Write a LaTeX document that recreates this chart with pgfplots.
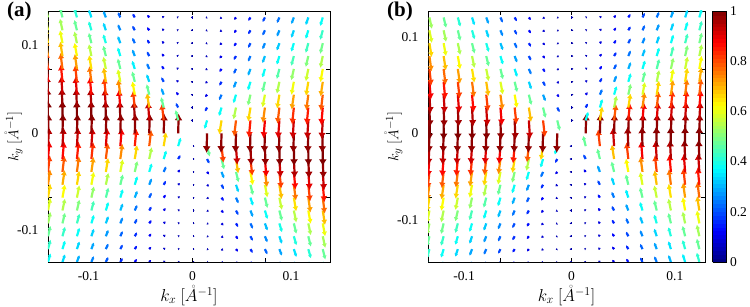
\documentclass[border=0pt]{standalone}
\usepackage{fontspec}
\setmainfont{Liberation Serif}
\usepackage{amsmath}
\usepackage{pgfplots}
\usepackage{pgfplotstable}
\pgfplotsset{compat=1.18}
\usetikzlibrary{arrows.meta}

% spin field of panel (a): grid position x y, components u v, magnitude m
\pgfplotstableread{
x y u v m
-10 -10 0.177 0.661 0.382
-10 -9 0.178 0.727 0.425
-10 -8 0.176 0.804 0.476
-10 -7 0.173 0.886 0.531
-10 -6 0.167 0.981 0.593
-10 -5 0.159 1.083 0.664
-10 -4 0.146 1.188 0.738
-10 -3 0.127 1.295 0.814
-10 -2 0.102 1.393 0.885
-10 -1 0.072 1.474 0.944
-10 0 0.038 1.529 0.984
-10 1 0.000 1.550 1.000
-10 2 -0.038 1.529 0.984
-10 3 -0.072 1.474 0.944
-10 4 -0.102 1.393 0.885
-10 5 -0.127 1.295 0.814
-10 6 -0.146 1.188 0.738
-10 7 -0.159 1.083 0.664
-10 8 -0.167 0.981 0.593
-10 9 -0.173 0.886 0.531
-9 -10 0.176 0.595 0.341
-9 -9 0.177 0.661 0.382
-9 -8 0.178 0.734 0.429
-9 -7 0.175 0.822 0.487
-9 -6 0.172 0.917 0.550
-9 -5 0.164 1.026 0.624
-9 -4 0.152 1.141 0.705
-9 -3 0.134 1.260 0.789
-9 -2 0.109 1.374 0.870
-9 -1 0.075 1.466 0.938
-9 0 0.038 1.529 0.984
-9 1 -0.004 1.550 1.000
-9 2 -0.046 1.519 0.977
-9 3 -0.083 1.450 0.927
-9 4 -0.115 1.355 0.856
-9 5 -0.138 1.236 0.772
-9 6 -0.155 1.117 0.688
-9 7 -0.166 1.004 0.609
-9 8 -0.173 0.898 0.537
-9 9 -0.176 0.804 0.476
-8 -10 0.174 0.526 0.298
-8 -9 0.176 0.589 0.337
-8 -8 0.177 0.661 0.382
-8 -7 0.178 0.744 0.436
-8 -6 0.175 0.844 0.502
-8 -5 0.169 0.957 0.577
-8 -4 0.159 1.083 0.664
-8 -3 0.141 1.215 0.757
-8 -2 0.116 1.346 0.850
-8 -1 0.080 1.456 0.931
-8 0 0.038 1.529 0.984
-8 1 -0.009 1.549 0.999
-8 2 -0.055 1.506 0.967
-8 3 -0.095 1.415 0.901
-8 4 -0.127 1.295 0.814
-8 5 -0.149 1.162 0.719
-8 6 -0.164 1.031 0.628
-8 7 -0.172 0.909 0.545
-8 8 -0.176 0.804 0.476
-8 9 -0.178 0.710 0.414
-7 -10 0.169 0.452 0.254
-7 -9 0.172 0.510 0.288
-7 -8 0.176 0.579 0.331
-7 -7 0.177 0.660 0.382
-7 -6 0.177 0.758 0.445
-7 -5 0.174 0.873 0.521
-7 -4 0.165 1.010 0.613
-7 -3 0.150 1.157 0.716
-7 -2 0.122 1.321 0.830
-7 -1 0.086 1.443 0.922
-7 0 0.038 1.529 0.984
-7 1 -0.016 1.547 0.997
-7 2 -0.068 1.484 0.951
-7 3 -0.111 1.367 0.866
-7 4 -0.141 1.218 0.760
-7 5 -0.160 1.068 0.653
-7 6 -0.171 0.925 0.556
-7 7 -0.176 0.804 0.476
-7 8 -0.178 0.698 0.406
-7 9 -0.176 0.609 0.350
-6 -10 0.162 0.382 0.213
-6 -9 0.167 0.428 0.239
-6 -8 0.171 0.489 0.276
-6 -7 0.176 0.566 0.323
-6 -6 0.177 0.661 0.382
-6 -5 0.177 0.777 0.458
-6 -4 0.172 0.917 0.550
-6 -3 0.159 1.083 0.664
-6 -2 0.134 1.260 0.789
-6 -1 0.093 1.422 0.906
-6 0 0.038 1.529 0.984
-6 1 -0.025 1.541 0.994
-6 2 -0.083 1.450 0.927
-6 3 -0.127 1.295 0.814
-6 4 -0.155 1.117 0.688
-6 5 -0.170 0.949 0.571
-6 6 -0.176 0.804 0.476
-6 7 -0.178 0.683 0.397
-6 8 -0.176 0.584 0.334
-6 9 -0.172 0.504 0.285
-5 -10 0.154 0.301 0.167
-5 -9 0.159 0.347 0.193
-5 -8 0.164 0.399 0.222
-5 -7 0.169 0.462 0.260
-5 -6 0.175 0.548 0.312
-5 -5 0.177 0.661 0.382
-5 -4 0.176 0.804 0.476
-5 -3 0.167 0.982 0.594
-5 -2 0.145 1.189 0.738
-5 -1 0.102 1.394 0.885
-5 0 0.038 1.529 0.984
-5 1 -0.038 1.529 0.984
-5 2 -0.102 1.394 0.885
-5 3 -0.145 1.189 0.738
-5 4 -0.167 0.982 0.594
-5 5 -0.176 0.804 0.476
-5 6 -0.177 0.661 0.382
-5 7 -0.175 0.548 0.312
-5 8 -0.169 0.462 0.260
-5 9 -0.164 0.399 0.222
-4 -10 0.143 0.227 0.127
-4 -9 0.148 0.260 0.145
-4 -8 0.154 0.301 0.167
-4 -7 0.160 0.360 0.200
-4 -6 0.167 0.427 0.239
-4 -5 0.174 0.526 0.298
-4 -4 0.177 0.661 0.382
-4 -3 0.175 0.844 0.502
-4 -2 0.159 1.083 0.664
-4 -1 0.116 1.346 0.850
-4 0 0.038 1.529 0.984
-4 1 -0.055 1.506 0.967
-4 2 -0.127 1.295 0.814
-4 3 -0.164 1.031 0.628
-4 4 -0.176 0.804 0.476
-4 5 -0.177 0.628 0.362
-4 6 -0.172 0.504 0.285
-4 7 -0.166 0.412 0.230
-4 8 -0.159 0.347 0.193
-4 9 -0.153 0.293 0.163
-3 -10 0.131 0.157 0.093
-3 -9 0.135 0.179 0.103
-3 -8 0.141 0.208 0.118
-3 -7 0.146 0.247 0.137
-3 -6 0.154 0.301 0.167
-3 -5 0.162 0.382 0.213
-3 -4 0.171 0.489 0.276
-3 -3 0.177 0.661 0.382
-3 -2 0.172 0.917 0.550
-3 -1 0.134 1.260 0.789
-3 0 0.038 1.529 0.984
-3 1 -0.083 1.450 0.927
-3 2 -0.155 1.117 0.688
-3 3 -0.176 0.804 0.476
-3 4 -0.176 0.584 0.334
-3 5 -0.168 0.439 0.246
-3 6 -0.159 0.347 0.193
-3 7 -0.151 0.279 0.155
-3 8 -0.144 0.231 0.129
-3 9 -0.138 0.195 0.111
-2 -10 0.117 0.094 0.065
-2 -9 0.120 0.108 0.070
-2 -8 0.124 0.123 0.077
-2 -7 0.129 0.149 0.089
-2 -6 0.135 0.179 0.103
-2 -5 0.143 0.227 0.127
-2 -4 0.154 0.301 0.167
-2 -3 0.167 0.427 0.239
-2 -2 0.177 0.661 0.382
-2 -1 0.159 1.083 0.664
-2 0 0.038 1.529 0.984
-2 1 -0.127 1.295 0.814
-2 2 -0.176 0.804 0.476
-2 3 -0.172 0.504 0.285
-2 4 -0.159 0.347 0.193
-2 5 -0.147 0.252 0.140
-2 6 -0.138 0.195 0.111
-2 7 -0.132 0.159 0.093
-2 8 -0.126 0.133 0.081
-2 9 -0.122 0.114 0.073
-1 -10 0.106 0.043 0.046
-1 -9 0.107 0.049 0.048
-1 -8 0.108 0.055 0.050
-1 -7 0.110 0.064 0.053
-1 -6 0.113 0.077 0.058
-1 -5 0.117 0.094 0.065
-1 -4 0.124 0.123 0.077
-1 -3 0.135 0.179 0.103
-1 -2 0.154 0.301 0.167
-1 -1 0.177 0.661 0.382
-1 0 0.038 1.529 0.984
-1 1 -0.176 0.804 0.476
-1 2 -0.159 0.347 0.193
-1 3 -0.138 0.195 0.111
-1 4 -0.126 0.133 0.081
-1 5 -0.118 0.098 0.066
-1 6 -0.114 0.081 0.059
-1 7 -0.110 0.066 0.054
-1 8 -0.109 0.057 0.050
-1 9 -0.107 0.050 0.048
0 -10 0.130 0 0.040
0 -9 0.130 0 0.040
0 -8 0.130 0 0.040
0 -7 0.130 0 0.040
0 -6 0.130 0 0.040
0 -5 0.130 0 0.040
0 -4 0.130 0 0.040
0 -3 0.130 0 0.040
0 -2 0.130 0 0.040
0 -1 0.130 0 0.040
0 1 -0.130 0 0.040
0 2 -0.130 0 0.040
0 3 -0.130 0 0.040
0 4 -0.130 0 0.040
0 5 -0.130 0 0.040
0 6 -0.130 0 0.040
0 7 -0.130 0 0.040
0 8 -0.130 0 0.040
0 9 -0.130 0 0.040
1 -10 0.106 -0.043 0.046
1 -9 0.107 -0.050 0.048
1 -8 0.109 -0.057 0.050
1 -7 0.110 -0.066 0.054
1 -6 0.114 -0.081 0.059
1 -5 0.118 -0.098 0.066
1 -4 0.126 -0.133 0.081
1 -3 0.138 -0.195 0.111
1 -2 0.159 -0.347 0.193
1 -1 0.176 -0.804 0.476
1 0 -0.038 -1.529 0.984
1 1 -0.177 -0.661 0.382
1 2 -0.154 -0.301 0.167
1 3 -0.135 -0.179 0.103
1 4 -0.124 -0.123 0.077
1 5 -0.117 -0.094 0.065
1 6 -0.113 -0.077 0.058
1 7 -0.110 -0.064 0.053
1 8 -0.108 -0.055 0.050
1 9 -0.107 -0.049 0.048
2 -10 0.118 -0.098 0.066
2 -9 0.122 -0.114 0.073
2 -8 0.126 -0.133 0.081
2 -7 0.132 -0.159 0.093
2 -6 0.138 -0.195 0.111
2 -5 0.147 -0.252 0.140
2 -4 0.159 -0.347 0.193
2 -3 0.172 -0.504 0.285
2 -2 0.176 -0.804 0.476
2 -1 0.127 -1.295 0.814
2 0 -0.038 -1.529 0.984
2 1 -0.159 -1.083 0.664
2 2 -0.177 -0.661 0.382
2 3 -0.167 -0.427 0.239
2 4 -0.154 -0.301 0.167
2 5 -0.143 -0.227 0.127
2 6 -0.135 -0.179 0.103
2 7 -0.129 -0.149 0.089
2 8 -0.124 -0.123 0.077
2 9 -0.120 -0.108 0.070
3 -10 0.134 -0.169 0.098
3 -9 0.138 -0.195 0.111
3 -8 0.144 -0.231 0.129
3 -7 0.151 -0.279 0.155
3 -6 0.159 -0.347 0.193
3 -5 0.168 -0.439 0.246
3 -4 0.176 -0.584 0.334
3 -3 0.176 -0.804 0.476
3 -2 0.155 -1.117 0.688
3 -1 0.083 -1.450 0.927
3 0 -0.038 -1.529 0.984
3 1 -0.134 -1.260 0.789
3 2 -0.172 -0.917 0.550
3 3 -0.177 -0.661 0.382
3 4 -0.171 -0.489 0.276
3 5 -0.162 -0.382 0.213
3 6 -0.154 -0.301 0.167
3 7 -0.146 -0.247 0.137
3 8 -0.141 -0.208 0.118
3 9 -0.135 -0.179 0.103
4 -10 0.147 -0.252 0.140
4 -9 0.153 -0.293 0.163
4 -8 0.159 -0.347 0.193
4 -7 0.166 -0.412 0.230
4 -6 0.172 -0.504 0.285
4 -5 0.177 -0.628 0.362
4 -4 0.176 -0.804 0.476
4 -3 0.164 -1.031 0.628
4 -2 0.127 -1.295 0.814
4 -1 0.055 -1.506 0.967
4 0 -0.038 -1.529 0.984
4 1 -0.116 -1.346 0.850
4 2 -0.159 -1.083 0.664
4 3 -0.175 -0.844 0.502
4 4 -0.177 -0.661 0.382
4 5 -0.174 -0.526 0.298
4 6 -0.167 -0.427 0.239
4 7 -0.160 -0.360 0.200
4 8 -0.154 -0.301 0.167
4 9 -0.148 -0.260 0.145
5 -10 0.159 -0.347 0.193
5 -9 0.164 -0.399 0.222
5 -8 0.169 -0.462 0.260
5 -7 0.175 -0.548 0.312
5 -6 0.177 -0.661 0.382
5 -5 0.176 -0.804 0.476
5 -4 0.167 -0.982 0.594
5 -3 0.145 -1.189 0.738
5 -2 0.102 -1.394 0.885
5 -1 0.038 -1.529 0.984
5 0 -0.038 -1.529 0.984
5 1 -0.102 -1.394 0.885
5 2 -0.145 -1.189 0.738
5 3 -0.167 -0.982 0.594
5 4 -0.176 -0.804 0.476
5 5 -0.177 -0.661 0.382
5 6 -0.175 -0.548 0.312
5 7 -0.169 -0.462 0.260
5 8 -0.164 -0.399 0.222
5 9 -0.159 -0.347 0.193
6 -10 0.168 -0.439 0.246
6 -9 0.172 -0.504 0.285
6 -8 0.176 -0.584 0.334
6 -7 0.178 -0.683 0.397
6 -6 0.176 -0.804 0.476
6 -5 0.170 -0.949 0.571
6 -4 0.155 -1.117 0.688
6 -3 0.127 -1.295 0.814
6 -2 0.083 -1.450 0.927
6 -1 0.025 -1.541 0.994
6 0 -0.038 -1.529 0.984
6 1 -0.093 -1.422 0.906
6 2 -0.134 -1.260 0.789
6 3 -0.159 -1.083 0.664
6 4 -0.172 -0.917 0.550
6 5 -0.177 -0.777 0.458
6 6 -0.177 -0.661 0.382
6 7 -0.176 -0.566 0.323
6 8 -0.171 -0.489 0.276
6 9 -0.167 -0.428 0.239
7 -10 0.174 -0.535 0.304
7 -9 0.176 -0.609 0.350
7 -8 0.178 -0.698 0.406
7 -7 0.176 -0.804 0.476
7 -6 0.171 -0.925 0.556
7 -5 0.160 -1.068 0.653
7 -4 0.141 -1.218 0.760
7 -3 0.111 -1.367 0.866
7 -2 0.068 -1.484 0.951
7 -1 0.016 -1.547 0.997
7 0 -0.038 -1.529 0.984
7 1 -0.086 -1.443 0.922
7 2 -0.122 -1.321 0.830
7 3 -0.150 -1.157 0.716
7 4 -0.165 -1.010 0.613
7 5 -0.174 -0.873 0.521
7 6 -0.177 -0.758 0.445
7 7 -0.177 -0.660 0.382
7 8 -0.176 -0.579 0.331
7 9 -0.172 -0.510 0.288
8 -10 0.177 -0.628 0.362
8 -9 0.178 -0.710 0.414
8 -8 0.176 -0.804 0.476
8 -7 0.172 -0.909 0.545
8 -6 0.164 -1.031 0.628
8 -5 0.149 -1.162 0.719
8 -4 0.127 -1.295 0.814
8 -3 0.095 -1.415 0.901
8 -2 0.055 -1.506 0.967
8 -1 0.009 -1.549 0.999
8 0 -0.038 -1.529 0.984
8 1 -0.080 -1.456 0.931
8 2 -0.116 -1.346 0.850
8 3 -0.141 -1.215 0.757
8 4 -0.159 -1.083 0.664
8 5 -0.169 -0.957 0.577
8 6 -0.175 -0.844 0.502
8 7 -0.178 -0.744 0.436
8 8 -0.177 -0.661 0.382
8 9 -0.176 -0.589 0.337
9 -10 0.178 -0.719 0.420
9 -9 0.176 -0.804 0.476
9 -8 0.173 -0.898 0.537
9 -7 0.166 -1.004 0.609
9 -6 0.155 -1.117 0.688
9 -5 0.138 -1.236 0.772
9 -4 0.115 -1.355 0.856
9 -3 0.083 -1.450 0.927
9 -2 0.046 -1.519 0.977
9 -1 0.004 -1.550 1.000
9 0 -0.038 -1.529 0.984
9 1 -0.075 -1.466 0.938
9 2 -0.109 -1.374 0.870
9 3 -0.134 -1.260 0.789
9 4 -0.152 -1.141 0.705
9 5 -0.164 -1.026 0.624
9 6 -0.172 -0.917 0.550
9 7 -0.175 -0.822 0.487
9 8 -0.178 -0.734 0.429
9 9 -0.177 -0.661 0.382
}\fieldA

\pgfplotsset{
  qfield/.style={
    scale only axis, height=251pt,
    ymin=-10, ymax=9.5,
    axis line style={line width=0.9pt},
    tick style={line width=0.6pt, black},
    major tick length=0pt,
    tick label style={font=\fontsize{13.5}{14}\selectfont},
    xticklabel style={yshift=-6pt},
    yticklabel style={xshift=-6pt},
    extra x ticks={-5,0,5}, extra y ticks={-5,0,5},
    extra x tick labels={,,}, extra y tick labels={,,},
    extra tick style={major tick length=4pt},
    xlabel style={font=\fontsize{16.5}{17}\selectfont, inner sep=0pt},
    ylabel style={font=\fontsize{15.5}{16}\selectfont, inner sep=0pt},
    xlabel={$k_x\ [\mathring{A}^{-1}]$},
    ylabel={$k_y\ [\mathring{A}^{-1}]$},
    colormap/jet, point meta min=0, point meta max=1,
  },
  arrowsty/.style={
    line width=2.2pt,
    /utils/exec={\pgfmathsetmacro{\hl}{1.0+5.8*\pgfplotspointmetatransformed/1000}\pgfmathsetmacro{\hw}{1.5+6.6*\pgfplotspointmetatransformed/1000}},
    -{Latex[length=\hl pt,width=\hw pt]},
  },
}

\begin{document}
\begin{tikzpicture}
\path[use as bounding box] (0pt,0pt) rectangle (750pt,-307pt);

\begin{axis}[qfield,
  at={(48pt,-11pt)}, anchor=north west, width=282pt,
  xmin=-10, xmax=9.5,
  xtick={-7.2,0,6.8}, xticklabels={-0.1,0,0.1},
  ytick={-7.53,0,6.86}, yticklabels={-0.1,0,0.1},
  xlabel style={at={(axis description cs:0.5,-0.157)}, anchor=base},
  ylabel style={at={(axis description cs:-0.089,0.5)}, anchor=south},
]
\addplot[point meta=\thisrow{m},
  quiver={u=\thisrow{u}, v=\thisrow{v}, colored=mapped color,
    every arrow/.append style={/pgfplots/arrowsty}}]
  table[x=x, y=y] {\fieldA};
\end{axis}

\begin{axis}[qfield,
  at={(428pt,-11pt)}, anchor=north west, width=277pt,
  xmin=-10.1, xmax=9.4,
  xtick={-7.56,0,7.28}, xticklabels={-0.1,0,0.1},
  ytick={-6.76,0,7.5}, yticklabels={-0.1,0,0.1},
  xlabel style={at={(axis description cs:0.5,-0.157)}, anchor=base},
  ylabel style={at={(axis description cs:-0.091,0.5)}, anchor=south},
  colorbar sampled,
  colorbar style={at={(parent axis.north east)}, anchor=north west, xshift=-1pt,
    scale only axis, width=14pt, height=251pt, samples=65,
    ytick={0,0.2,0.4,0.6,0.8,1},
    major tick length=0pt,
    axis line style={line width=0.8pt},
    yticklabel style={font=\fontsize{13.5}{14}\selectfont, /pgf/number format/assume math mode=true}},
]
\addplot[point meta=\thisrow{m},
  quiver={u=-\thisrow{u}, v=-\thisrow{v}, colored=mapped color,
    every arrow/.append style={/pgfplots/arrowsty}}]
  table[x=x, y=y] {\fieldA};
\end{axis}

\node[anchor=north west, inner sep=0pt, font=\bfseries\fontsize{21}{21}\selectfont] at (7pt,-2pt) {(a)};
\node[anchor=north west, inner sep=0pt, font=\bfseries\fontsize{21}{21}\selectfont] at (387pt,-2pt) {(b)};
\end{tikzpicture}
\end{document}
